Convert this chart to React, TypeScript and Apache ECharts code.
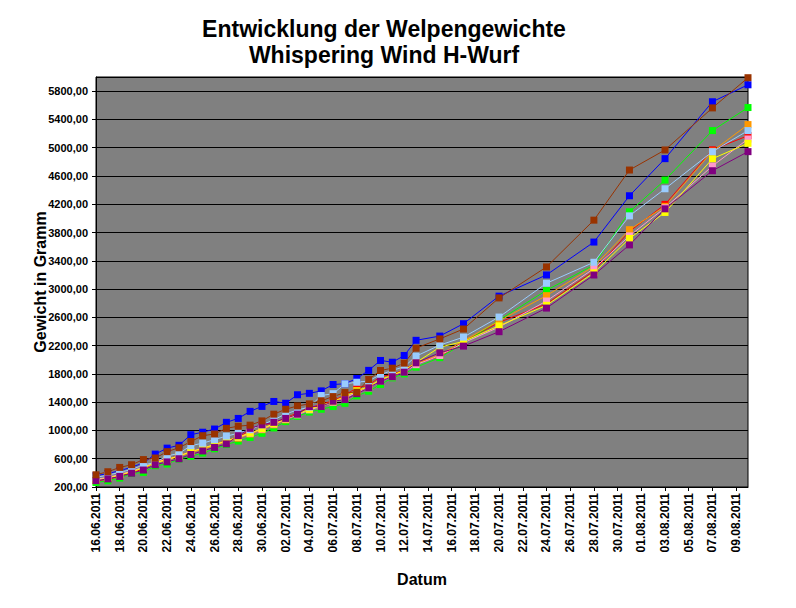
import React, { useEffect, useRef } from "react";
import * as echarts from "echarts";

const dates = [
  "2011-06-16", "2011-06-17", "2011-06-18", "2011-06-19", "2011-06-20",
  "2011-06-21", "2011-06-22", "2011-06-23", "2011-06-24", "2011-06-25",
  "2011-06-26", "2011-06-27", "2011-06-28", "2011-06-29", "2011-06-30",
  "2011-07-01", "2011-07-02", "2011-07-03", "2011-07-04", "2011-07-05",
  "2011-07-06", "2011-07-07", "2011-07-08", "2011-07-09", "2011-07-10",
  "2011-07-11", "2011-07-12", "2011-07-13",
  "2011-07-15", "2011-07-17", "2011-07-20", "2011-07-24", "2011-07-28",
  "2011-07-31", "2011-08-03", "2011-08-07", "2011-08-10",
];

const blue = [360, 390, 430, 480, 540, 665, 750, 790, 940, 975, 1020, 1115, 1170, 1270, 1340, 1410, 1385, 1505, 1525, 1560, 1650, 1660, 1735, 1850, 1990, 1965, 2060, 2275, 2335, 2510, 2900, 3200, 3665, 4320, 4845, 5650, 5890];
const red = [288, 312, 350, 410, 450, 560, 596, 643, 700, 740, 800, 860, 900, 1010, 1082, 1100, 1177, 1248, 1320, 1370, 1420, 1500, 1603, 1640, 1763, 1790, 1860, 1960, 2047, 2250, 2529, 2790, 3256, 3815, 4198, 4970, 5170];
const green = [264, 288, 326, 392, 406, 501, 525, 596, 633, 680, 740, 800, 850, 900, 960, 1035, 1125, 1200, 1260, 1300, 1338, 1384, 1489, 1555, 1650, 1744, 1800, 1895, 2030, 2230, 2560, 2982, 3340, 4093, 4542, 5242, 5568];
const orange = [300, 330, 370, 420, 470, 540, 580, 630, 690, 730, 790, 840, 890, 950, 1010, 1080, 1150, 1230, 1300, 1350, 1400, 1470, 1560, 1620, 1720, 1780, 1850, 1950, 2070, 2270, 2550, 2907, 3320, 3840, 4170, 4950, 5327];
const pink = [310, 335, 375, 425, 480, 550, 590, 640, 700, 750, 800, 850, 900, 960, 1020, 1090, 1160, 1220, 1291, 1340, 1400, 1460, 1540, 1600, 1700, 1760, 1830, 1930, 2060, 2240, 2462, 2831, 3290, 3752, 4150, 4741, 5123];
const yellow = [295, 325, 365, 415, 470, 545, 590, 640, 700, 745, 800, 855, 905, 965, 1025, 1095, 1165, 1235, 1300, 1350, 1410, 1480, 1560, 1620, 1720, 1780, 1850, 1960, 2178, 2259, 2480, 2770, 3230, 3716, 4084, 4844, 5062];
const lightBlue = [335, 369, 406, 449, 511, 548, 640, 675, 784, 820, 870, 920, 960, 1010, 1080, 1150, 1234, 1290, 1330, 1494, 1520, 1660, 1682, 1700, 1790, 1850, 1900, 2051, 2207, 2320, 2604, 3082, 3379, 4036, 4419, 4944, 5242];
const purple = [290, 315, 350, 395, 440, 515, 555, 600, 660, 710, 760, 810, 926, 1030, 1080, 1115, 1170, 1230, 1338, 1338, 1413, 1437, 1520, 1603, 1696, 1760, 1824, 1957, 2099, 2193, 2397, 2731, 3199, 3625, 4135, 4674, 4944];
const brown = [373, 416, 477, 515, 588, 610, 700, 755, 843, 926, 950, 1030, 1060, 1075, 1135, 1230, 1300, 1347, 1376, 1420, 1479, 1536, 1541, 1720, 1848, 1881, 1952, 2164, 2295, 2435, 2875, 3313, 3975, 4684, 4968, 5563, 5990];

const seriesList = [
  { name: "Welpe 1", color: "#0000FF", values: blue },
  { name: "Welpe 2", color: "#FF0000", values: red },
  { name: "Welpe 3", color: "#00FF00", values: green },
  { name: "Welpe 4", color: "#FF9900", values: orange },
  { name: "Welpe 5", color: "#FF99CC", values: pink },
  { name: "Welpe 6", color: "#FFFF00", values: yellow },
  { name: "Welpe 7", color: "#99CCFF", values: lightBlue },
  { name: "Welpe 8", color: "#800080", values: purple },
  { name: "Welpe 9", color: "#993300", values: brown },
];

const tickLabels = [
  "16.06.2011", "18.06.2011", "20.06.2011", "22.06.2011", "24.06.2011",
  "26.06.2011", "28.06.2011", "30.06.2011", "02.07.2011", "04.07.2011",
  "06.07.2011", "08.07.2011", "10.07.2011", "12.07.2011", "14.07.2011",
  "16.07.2011", "18.07.2011", "20.07.2011", "22.07.2011", "24.07.2011",
  "26.07.2011", "28.07.2011", "30.07.2011", "01.08.2011", "03.08.2011",
  "05.08.2011", "07.08.2011", "09.08.2011",
];

const axisStart = "2011-06-16";
const axisEnd = "2011-08-10";

const DAY = 86400000;
const parseIso = (s: string) => {
  const [y, m, d] = s.split("-").map(Number);
  return Date.UTC(y, m - 1, d);
};
const parseDe = (s: string) => {
  const [d, m, y] = s.split(".").map(Number);
  return Date.UTC(y, m - 1, d);
};
const t0 = parseIso(axisStart);
const dayOf = (ms: number) => Math.round((ms - t0) / DAY);
const labelFor = (day: number) => {
  const t = new Date(t0 + day * DAY);
  const dd = String(t.getUTCDate()).padStart(2, "0");
  const mm = String(t.getUTCMonth() + 1).padStart(2, "0");
  return `${dd}.${mm}.${t.getUTCFullYear()}`;
};

const FONT = "Liberation Sans, Arial, sans-serif";

export default function App() {
  const ref = useRef<HTMLDivElement>(null);
  useEffect(() => {
    if (!ref.current) return;
    const chart = echarts.init(ref.current, undefined, { renderer: "svg" });
    const tickDays = tickLabels.map((s) => dayOf(parseDe(s)));
    const xDays = dates.map((s) => dayOf(parseIso(s)));
    chart.setOption({
      animation: false,
      backgroundColor: "#FFFFFF",
      title: {
        text: "Entwicklung der Welpengewichte\nWhispering Wind H-Wurf",
        left: 379,
        top: 11,
        textAlign: "center",
        textStyle: {
          fontFamily: FONT,
          fontWeight: "bold",
          fontSize: 23,
          lineHeight: 26,
          color: "#000000",
        },
      },
      grid: {
        left: 96,
        top: 77,
        right: 48,
        bottom: 121,
        show: true,
        backgroundColor: "#808080",
        borderColor: "#000000",
        borderWidth: 1,
      },
      xAxis: {
        type: "value",
        min: 0,
        max: dayOf(parseIso(axisEnd)),
        interval: 2,
        name: "Datum",
        nameLocation: "middle",
        nameGap: 84,
        nameMoveOverlap: false,
        nameTextStyle: { fontFamily: FONT, fontWeight: "bold", fontSize: 16, color: "#000" },
        axisLine: { lineStyle: { color: "#000", width: 1 } },
        axisTick: { show: true, length: 4, lineStyle: { color: "#000" }, customValues: tickDays },
        splitLine: { show: false },
        axisLabel: {
          customValues: tickDays,
          rotate: 90,
          margin: 6,
          fontFamily: FONT,
          fontWeight: "bold",
          fontSize: 12,
          color: "#000",
          formatter: (v: number) => labelFor(v),
        },
      },
      yAxis: {
        type: "value",
        min: 200,
        max: 6000,
        interval: 400,
        name: "Gewicht in Gramm",
        nameLocation: "middle",
        nameGap: 48,
        nameMoveOverlap: false,
        nameTextStyle: { fontFamily: FONT, fontWeight: "bold", fontSize: 16, color: "#000" },
        axisLine: { show: true, lineStyle: { color: "#000", width: 1 } },
        axisTick: { show: true, length: 4, lineStyle: { color: "#000" } },
        splitLine: { show: true, lineStyle: { color: "#000", width: 1 } },
        axisLabel: {
          showMaxLabel: false,
          margin: 8,
          fontFamily: FONT,
          fontWeight: "bold",
          fontSize: 11,
          color: "#000",
          formatter: (v: number) => (v >= 6000 ? "" : v.toFixed(2).replace(".", ",")),
        },
      },
      series: seriesList.map((s) => ({
        name: s.name,
        type: "line",
        data: s.values.map((v, i) => [xDays[i], v]),
        symbol: "rect",
        symbolSize: 7,
        lineStyle: { color: s.color, width: 1 },
        itemStyle: { color: s.color },
        emphasis: { disabled: true },
      })),
    });
    return () => chart.dispose();
  }, []);
  return (
    <div
      ref={ref}
      style={{ position: "fixed", left: 0, top: 0, width: 796, height: 608, background: "#fff" }}
    />
  );
}
